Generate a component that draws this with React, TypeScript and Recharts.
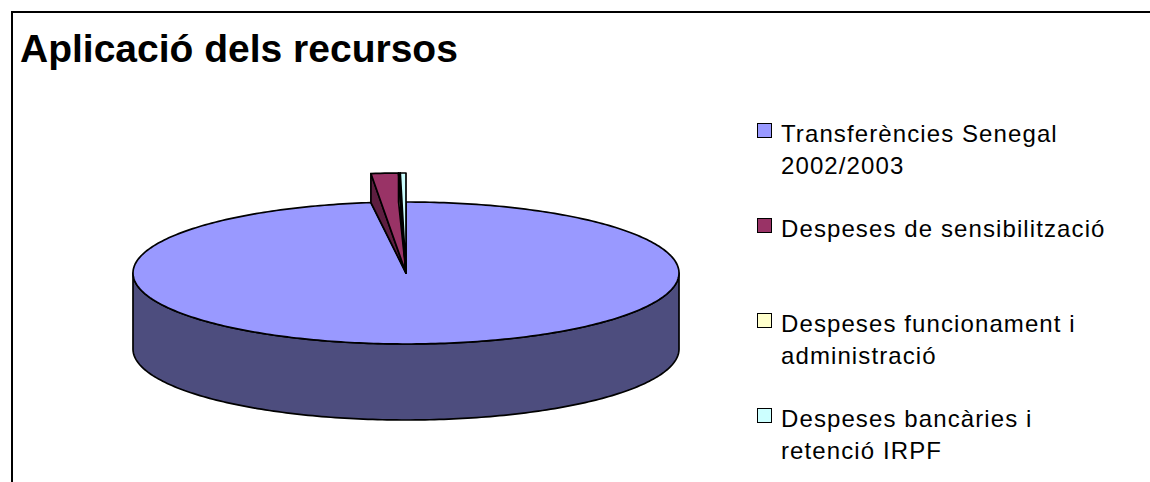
import React from 'react';
import { PieChart, Pie } from 'recharts';

const categories = [
  'Transferències Senegal 2002/2003',
  'Despeses de sensibilització',
  'Despeses funcionament i administració',
  'Despeses bancàries i retenció IRPF',
];
const amounts = [29400, 486, 30, 100];
const topColors = ['#9999FF', '#993366', '#FFFFCC', '#CCFFFF'];
const sideColors = ['#4D4D7E', '#5E1E40', '#A8A888', '#88A8A8'];

const chartTitle = 'Aplicació dels recursos';

// 3d look: vertical squash of the pie, wall height, raise of the small back slices
const TILT = 71 / 273;
const DEPTH = 76;
const RISE = 29;
const FONT = '"Liberation Sans", Arial, sans-serif';

const data = categories.map((name, i) => ({ name, value: amounts[i] }));

type Pt = [number, number];

function pt(cx: number, cy: number, r: number, deg: number, dy = 0): Pt {
  const a = (deg * Math.PI) / 180;
  return [cx + r * Math.cos(a), cy - r * TILT * Math.sin(a) + dy];
}

function arcPts(cx: number, cy: number, r: number, from: number, to: number, dy = 0): Pt[] {
  const n = Math.max(2, Math.ceil(Math.abs(to - from))) + 1;
  const out: Pt[] = [];
  for (let i = 0; i < n; i++) {
    out.push(pt(cx, cy, r, from + ((to - from) * i) / (n - 1), dy));
  }
  return out;
}

const toPath = (pts: Pt[]) =>
  'M' + pts.map((p) => p[0].toFixed(2) + ',' + p[1].toFixed(2)).join('L') + 'Z';

// parts of a slice's arc that face the viewer (lower half of the ellipse)
function frontRanges(s: number, e: number) {
  const lo = Math.min(s, e);
  const hi = Math.max(s, e);
  const res: [number, number][] = [];
  for (let k = -2; k <= 2; k++) {
    const a = Math.max(lo, -180 + 360 * k);
    const b = Math.min(hi, 360 * k);
    if (b > a) res.push([a, b]);
  }
  return res;
}

const edge = { stroke: '#000', strokeWidth: 1.7, strokeLinejoin: 'round' as const };

const Slice3D = (props: any) => {
  const { cx, cy, outerRadius, startAngle, endAngle, index, percent } = props;
  const r = outerRadius;
  const parts: React.ReactNode[] = [];

  frontRanges(startAngle, endAngle).forEach(([a, b], j) => {
    const upper = arcPts(cx, cy, r, a, b);
    const lower = arcPts(cx, cy, r, b, a, DEPTH);
    parts.push(<path key={'w' + j} d={toPath([...upper, ...lower])} fill={sideColors[index]} {...edge} />);
  });

  if (percent < 0.05) {
    const base = pt(cx, cy, r, startAngle);
    const raised = pt(cx, cy, r, startAngle, -RISE);
    parts.push(<path key="s" d={toPath([[cx, cy], base, raised])} fill={sideColors[index]} {...edge} />);
    parts.push(
      <path
        key="t"
        d={toPath([[cx, cy], ...arcPts(cx, cy, r, startAngle, endAngle, -RISE)])}
        fill={topColors[index]}
        {...edge}
      />
    );
  } else {
    parts.push(
      <path
        key="t"
        d={toPath([[cx, cy], ...arcPts(cx, cy, r, startAngle, endAngle)])}
        fill={topColors[index]}
        {...edge}
      />
    );
  }
  return <g key={'slice-' + index}>{parts}</g>;
};

export default function App() {
  return (
    <div
      style={{
        position: 'absolute',
        left: 0,
        top: 0,
        width: 1150,
        height: 482,
        overflow: 'hidden',
        background: '#fff',
        fontFamily: FONT,
      }}
    >
      <div
        style={{
          position: 'absolute',
          left: 11,
          top: 11,
          width: 1160,
          height: 520,
          border: '2px solid #000',
          boxSizing: 'border-box',
        }}
      />
      <div
        style={{
          position: 'absolute',
          left: 20,
          top: 29,
          fontSize: 39,
          lineHeight: '39px',
          fontWeight: 'bold',
          color: '#000',
          whiteSpace: 'nowrap',
        }}
      >
        {chartTitle}
      </div>

      <div style={{ position: 'absolute', left: 0, top: 0 }}>
        <PieChart width={1150} height={482} margin={{ top: 0, right: 0, bottom: 0, left: 0 }}>
          <Pie
            data={data}
            dataKey="value"
            nameKey="name"
            cx={406}
            cy={273}
            outerRadius={273}
            startAngle={90}
            endAngle={-270}
            fill="transparent"
            stroke="none"
            label={Slice3D}
            labelLine={false}
            isAnimationActive={false}
          />
        </PieChart>
      </div>

      {categories.map((name, i) => (
        <div key={name} style={{ position: 'absolute', left: 757, top: 118 + i * 95 }}>
          <div
            style={{
              position: 'absolute',
              left: 0,
              top: 5,
              width: 15,
              height: 15,
              boxSizing: 'border-box',
              border: '1.5px solid #000',
              background: topColors[i],
            }}
          />
          <div
            style={{
              position: 'absolute',
              left: 24,
              top: 0,
              width: 350,
              fontSize: 24,
              lineHeight: '31.6px',
              letterSpacing: 1.1,
              color: '#000',
            }}
          >
            {name}
          </div>
        </div>
      ))}
    </div>
  );
}
